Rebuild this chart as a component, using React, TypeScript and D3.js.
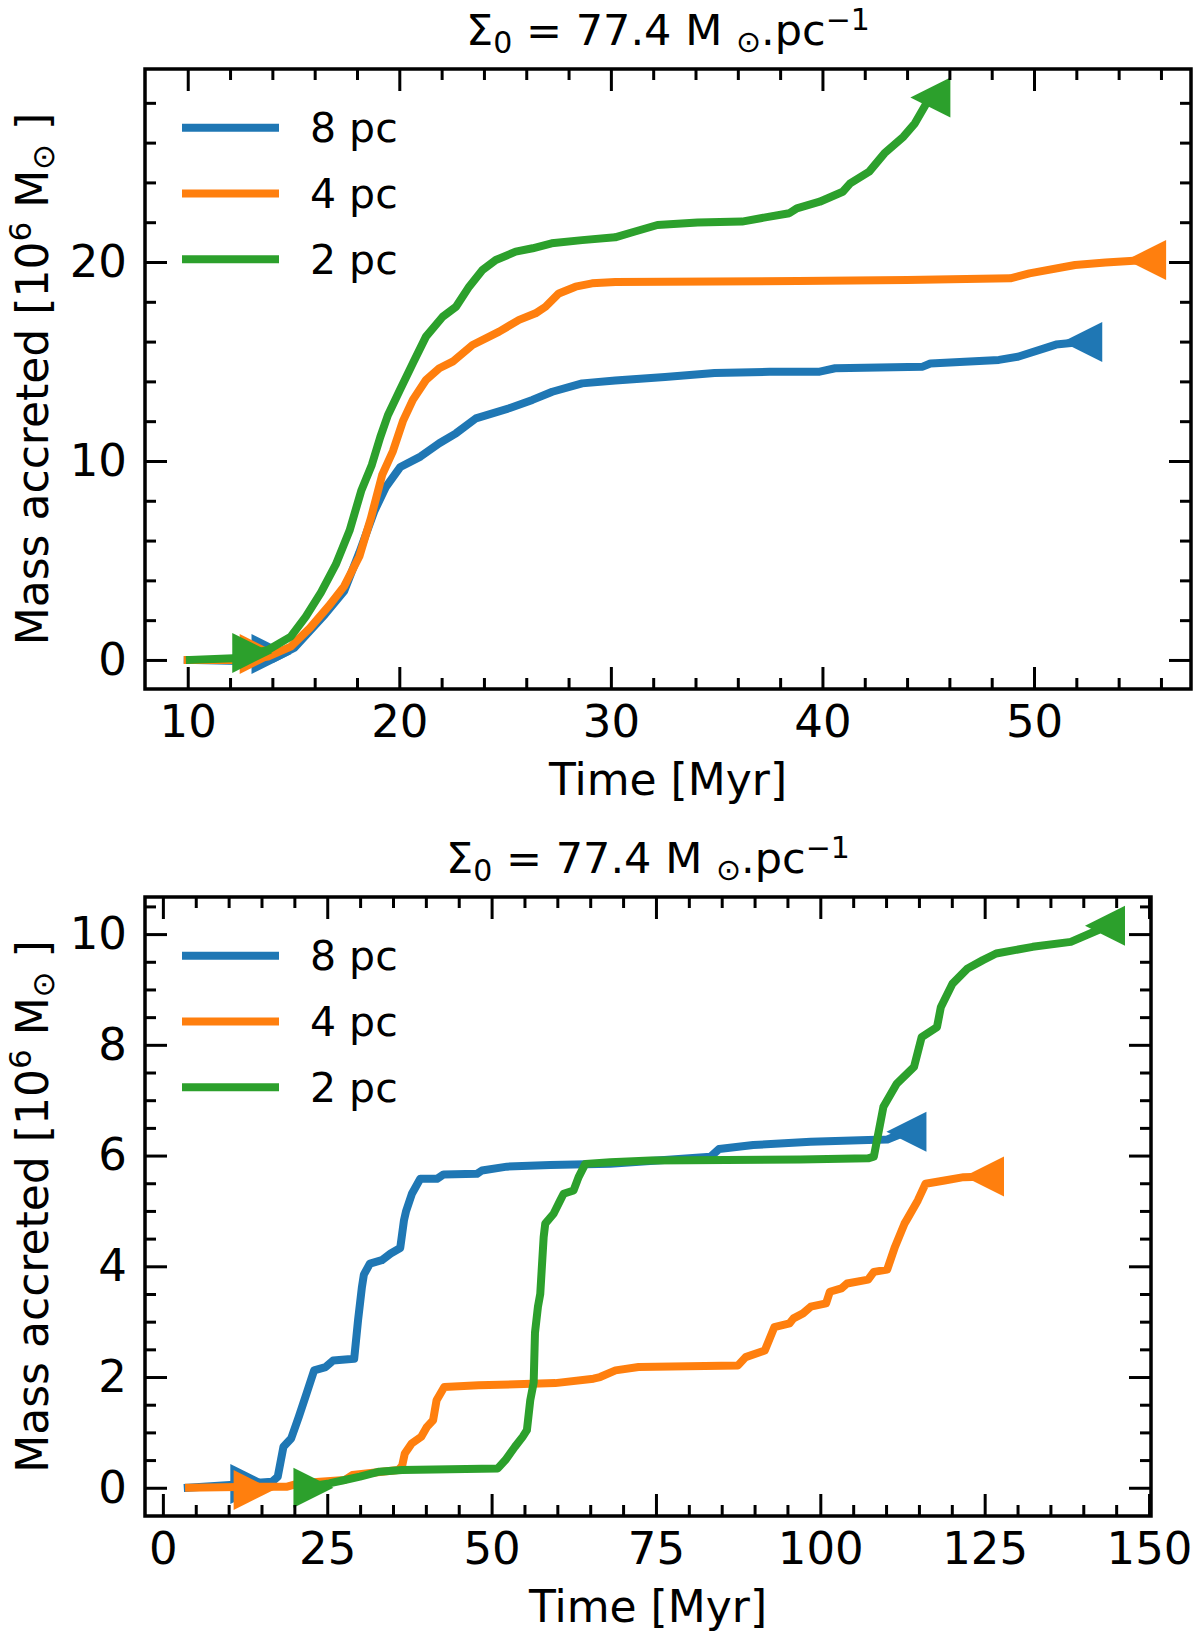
import React, { useEffect, useRef } from 'react';
import * as d3 from 'd3';

type Pt = [number, number]; // [time in Myr, mass in 1e6 Msun]

const seriesLabels = ['8 pc', '4 pc', '2 pc'];
const seriesColors = ['#1f77b4', '#ff7f0e', '#2ca02c'];

// --- top panel -------------------------------------------------------------
const top8pc: Pt[] = [
  [10, 0], [12.5, -0.05], [14.0, 0.05], [15.05, 0.62], [16.49, 2.3], [17.39, 3.45],
  [18.11, 5.4], [18.83, 7.5], [19.37, 8.7], [20.05, 9.7], [21.0, 10.22], [21.89, 10.89],
  [22.68, 11.39], [23.62, 12.14], [25.19, 12.65], [26.29, 13.07], [27.23, 13.48],
  [28.64, 13.9], [30.21, 14.05], [32.56, 14.22], [34.9, 14.42], [37.5, 14.48],
  [39.87, 14.49], [40.6, 14.66], [44.74, 14.74], [45.1, 14.9], [48.34, 15.08],
  [49.24, 15.24], [51.04, 15.85], [52.28, 15.98],
];
const top4pc: Pt[] = [
  [10, 0], [12.5, 0], [13.79, 0.17], [14.87, 0.67], [15.77, 1.6], [16.66, 2.7],
  [17.39, 3.7], [18.11, 5.2], [18.65, 7.1], [19.19, 9.3], [19.7, 10.5], [20.17, 12.0],
  [20.64, 13.07], [21.26, 14.07], [21.89, 14.66], [22.52, 14.99], [23.46, 15.83],
  [24.72, 16.5], [25.66, 17.09], [26.44, 17.42], [26.91, 17.75], [27.54, 18.42],
  [28.33, 18.76], [29.11, 18.93], [30.21, 19.0], [38.84, 19.04], [44, 19.1],
  [48.88, 19.18], [49.78, 19.43], [51.94, 19.85], [53.38, 19.97], [55.3, 20.1],
];
const top2pc: Pt[] = [
  [10.1, 0], [12.16, 0.08], [13.79, 0.5], [14.87, 1.17], [15.58, 2.18], [16.3, 3.4],
  [17.0, 4.8], [17.65, 6.5], [18.2, 8.5], [18.7, 9.8], [19.1, 11.2], [19.46, 12.3],
  [20.0, 13.5], [20.64, 14.91], [21.26, 16.25], [22.05, 17.25], [22.68, 17.75],
  [23.3, 18.76], [23.93, 19.6], [24.56, 20.1], [25.5, 20.52], [26.3, 20.69],
  [27.2, 20.94], [28.64, 21.1], [30.2, 21.24], [31.1, 21.52], [32.2, 21.86],
  [34.1, 21.98], [36.2, 22.03], [37.3, 22.24], [38.43, 22.45], [38.79, 22.7],
  [39.87, 23.03], [40.96, 23.53], [41.31, 23.95], [42.21, 24.54], [42.93, 25.46],
  [43.83, 26.3], [44.37, 26.97], [44.91, 27.97], [45.1, 28.27],
];
const topStartMarks: Pt[] = [[13.96, 0.3], [13.4, 0.3], [13.05, 0.35]];
const topXTicks = [10, 20, 30, 40, 50];
const topYTicks = [0, 10, 20];

// --- bottom panel ----------------------------------------------------------
const bottom8pc: Pt[] = [
  [3.79, 0], [10.2, 0.05], [16.6, 0.11], [17.47, 0.2], [18.34, 0.74], [19.51, 0.89],
  [20.67, 1.28], [21.84, 1.7], [23.0, 2.12], [24.75, 2.18], [25.9, 2.3], [29.1, 2.33],
  [29.69, 3.03], [30.28, 3.63], [30.57, 3.85], [31.5, 4.05], [33.3, 4.11], [34.65, 4.23],
  [36.1, 4.33], [36.67, 4.83], [37.0, 5.0], [37.88, 5.31], [39.15, 5.58], [41.69, 5.58],
  [42.7, 5.66], [47.77, 5.67], [48.53, 5.73], [52.33, 5.8], [58.92, 5.83], [68.05, 5.85],
  [74.13, 5.9], [83.3, 5.98], [84.6, 6.12], [89.8, 6.19], [98.54, 6.25], [107.27, 6.28],
  [110.2, 6.29], [113.1, 6.43],
];
const bottom4pc: Pt[] = [
  [3.98, 0], [16.0, 0.02], [18.92, 0.02], [20.67, 0.08], [27.65, 0.14], [28.81, 0.23],
  [35.8, 0.32], [36.4, 0.4], [36.8, 0.62], [37.84, 0.8], [39.3, 0.92], [40.17, 1.1],
  [41.1, 1.22], [41.63, 1.58], [42.8, 1.82], [48.03, 1.85], [59.68, 1.89], [65.5, 1.97],
  [66.5, 2.0], [68.85, 2.12], [72.35, 2.18], [87.48, 2.21], [88.64, 2.36], [91.56, 2.48],
  [93.0, 2.9], [95.33, 2.97], [95.92, 3.06], [97.37, 3.15], [98.54, 3.27], [100.87, 3.33],
  [101.45, 3.54], [103.2, 3.6], [104.07, 3.69], [107.27, 3.76], [108.14, 3.9],
  [110.17, 3.94], [111.35, 4.35], [112.8, 4.77], [113.1, 4.83], [114.83, 5.19],
  [116.0, 5.49], [118.9, 5.55], [121.8, 5.61], [124.9, 5.62],
];
const bottom2pc: Pt[] = [
  [21.0, 0], [25.3, 0.08], [27.65, 0.14], [29.98, 0.2], [32.9, 0.29], [36.38, 0.32],
  [50.94, 0.35], [52.1, 0.5], [53.55, 0.74], [54.72, 0.92], [55.37, 1.04], [55.88, 1.58],
  [56.4, 1.9], [56.6, 2.8], [57.05, 3.27], [57.4, 3.5], [57.92, 4.53], [58.16, 4.77],
  [59.43, 4.95], [60.44, 5.19], [60.95, 5.31], [62.47, 5.37], [63.23, 5.61], [64.25, 5.85],
  [68.05, 5.88], [74.13, 5.91], [96.95, 5.93], [107.27, 5.95], [108.14, 5.98],
  [109.6, 6.88], [111.64, 7.3], [114.25, 7.6], [115.42, 8.14], [117.75, 8.32],
  [118.33, 8.68], [120.08, 9.1], [122.41, 9.38], [124.73, 9.53], [126.75, 9.65],
  [132.3, 9.77], [138.1, 9.86], [142.19, 10.07], [143.3, 10.15],
];
const bottomStartMarks: Pt[] = [[13.3, 0.07], [13.8, -0.04], [22.9, 0]];
const bottomXTicks = [0, 25, 50, 75, 100, 125, 150];
const bottomYTicks = [0, 2, 4, 6, 8, 10];

const FONT = '"DejaVu Sans", sans-serif';
const LINE_W = 8;
const MARKER = 40;

interface PanelSpec {
  left: number; right: number; top: number; bottom: number;
  xDomain: [number, number]; yDomain: [number, number];
  series: Pt[][]; startMarks: Pt[];
  xTicks: number[]; yTicks: number[];
  xMinorStep: number; yMinorStep: number;
}

const panels: PanelSpec[] = [
  {
    left: 145, right: 1191, top: 69, bottom: 689,
    xDomain: [7.98, 57.42], yDomain: [-1.46, 29.7],
    series: [top8pc, top4pc, top2pc], startMarks: topStartMarks,
    xTicks: topXTicks, yTicks: topYTicks, xMinorStep: 2, yMinorStep: 2,
  },
  {
    left: 145, right: 1151, top: 897, bottom: 1516,
    xDomain: [-2.72, 150.3], yDomain: [-0.51, 10.67],
    series: [bottom8pc, bottom4pc, bottom2pc], startMarks: bottomStartMarks,
    xTicks: bottomXTicks, yTicks: bottomYTicks, xMinorStep: 5, yMinorStep: 0.5,
  },
];

// matplotlib-like triangle marker, base == height == size
const triangle = (cx: number, cy: number, size: number, dir: 'left' | 'right') => {
  const h = size / 2;
  const p = d3.path();
  if (dir === 'right') {
    p.moveTo(cx - h, cy - h); p.lineTo(cx + h, cy); p.lineTo(cx - h, cy + h);
  } else {
    p.moveTo(cx + h, cy - h); p.lineTo(cx - h, cy); p.lineTo(cx + h, cy + h);
  }
  p.closePath();
  return p.toString();
};

const minorTicks = (domain: [number, number], step: number, majors: number[]) => {
  const start = Math.ceil(domain[0] / step) * step;
  return d3.range(start, domain[1] + 1e-9, step)
    .map(v => Math.round(v * 1000) / 1000)
    .filter(v => !majors.some(m => Math.abs(m - v) < 1e-6))
    .filter(v => v > domain[0] + 0.05 * step && v < domain[1] - 0.05 * step);
};

function drawPanel(svg: d3.Selection<SVGSVGElement, unknown, null, undefined>, p: PanelSpec) {
  const x = d3.scaleLinear().domain(p.xDomain).range([p.left, p.right]);
  const y = d3.scaleLinear().domain(p.yDomain).range([p.bottom, p.top]);
  const g = svg.append('g');

  // --- curves + markers
  const line = d3.line<Pt>().x(d => x(d[0])).y(d => y(d[1]));
  p.series.forEach((s, i) => {
    g.append('path')
      .attr('d', line(s))
      .attr('fill', 'none')
      .attr('stroke', seriesColors[i])
      .attr('stroke-width', LINE_W)
      .attr('stroke-linejoin', 'round')
      .attr('stroke-linecap', 'square');
    const st = p.startMarks[i];
    g.append('path')
      .attr('d', triangle(x(st[0]), y(st[1]), MARKER, 'right'))
      .attr('fill', seriesColors[i]);
    const end = s[s.length - 1];
    g.append('path')
      .attr('d', triangle(x(end[0]), y(end[1]), MARKER, 'left'))
      .attr('fill', seriesColors[i]);
  });

  // --- axes (ticks inward on all four sides)
  const xMinor = minorTicks(p.xDomain, p.xMinorStep, p.xTicks);
  const yMinor = minorTicks(p.yDomain, p.yMinorStep, p.yTicks);
  const blank = () => '';

  const styleAxis = (a: d3.Selection<SVGGElement, unknown, null, undefined>) => {
    a.select('.domain').remove();
    a.selectAll('.tick line').attr('stroke', '#000').attr('stroke-width', 3);
    a.selectAll('.tick text').attr('fill', '#000');
    a.attr('font-family', FONT).attr('font-size', 45);
  };

  const addAxis = (axis: d3.Axis<d3.NumberValue>, tx: number, ty: number) => {
    const a = g.append('g').attr('transform', `translate(${tx},${ty})`);
    a.call(axis);
    styleAxis(a);
  };

  addAxis(d3.axisBottom(x).tickValues(p.xTicks).tickSize(-22).tickPadding(16).tickFormat(d3.format('d')), 0, p.bottom);
  addAxis(d3.axisBottom(x).tickValues(xMinor).tickSize(-11).tickFormat(blank), 0, p.bottom);
  addAxis(d3.axisTop(x).tickValues(p.xTicks).tickSize(-22).tickFormat(blank), 0, p.top);
  addAxis(d3.axisTop(x).tickValues(xMinor).tickSize(-11).tickFormat(blank), 0, p.top);
  addAxis(d3.axisLeft(y).tickValues(p.yTicks).tickSize(-22).tickPadding(18).tickFormat(d3.format('d')), p.left, 0);
  addAxis(d3.axisLeft(y).tickValues(yMinor).tickSize(-11).tickFormat(blank), p.left, 0);
  addAxis(d3.axisRight(y).tickValues(p.yTicks).tickSize(-22).tickFormat(blank), p.right, 0);
  addAxis(d3.axisRight(y).tickValues(yMinor).tickSize(-11).tickFormat(blank), p.right, 0);

  g.append('rect')
    .attr('x', p.left).attr('y', p.top)
    .attr('width', p.right - p.left).attr('height', p.bottom - p.top)
    .attr('fill', 'none').attr('stroke', '#000').attr('stroke-width', 3.5);

  // --- legend (no frame)
  const lg = g.append('g').attr('font-family', FONT).attr('font-size', 41);
  seriesLabels.forEach((label, i) => {
    const ly = p.top + 58.7 + 65.8 * i;
    lg.append('line')
      .attr('x1', p.left + 37).attr('x2', p.left + 134)
      .attr('y1', ly).attr('y2', ly)
      .attr('stroke', seriesColors[i]).attr('stroke-width', LINE_W);
    lg.append('text')
      .attr('x', p.left + 165).attr('y', ly).attr('dy', '0.36em')
      .text(label);
  });

  // --- title
  const cx = (p.left + p.right) / 2;
  const t = g.append('text')
    .attr('x', cx).attr('y', p.top - 24)
    .attr('text-anchor', 'middle')
    .attr('font-family', FONT).attr('font-size', 43)
    .style('white-space', 'pre');
  t.append('tspan').text('Σ');
  t.append('tspan').attr('font-size', 30).attr('dy', 8).text('0');
  t.append('tspan').attr('dy', -8).text(' = 77.4 M ');
  t.append('tspan').attr('font-size', 30).attr('dy', 7).text('⊙');
  t.append('tspan').attr('dy', -7).text('.pc');
  t.append('tspan').attr('font-size', 30).attr('dy', -15).text('−1');

  // --- axis labels
  g.append('text')
    .attr('x', cx).attr('y', p.bottom + 106)
    .attr('text-anchor', 'middle')
    .attr('font-family', FONT).attr('font-size', 44)
    .text('Time [Myr]');

  const yl = g.append('text')
    .attr('transform', `translate(48,${(p.top + p.bottom) / 2}) rotate(-90)`)
    .attr('text-anchor', 'middle')
    .attr('font-family', FONT).attr('font-size', 44)
    .style('white-space', 'pre');
  yl.append('tspan').text('Mass accreted [10');
  yl.append('tspan').attr('font-size', 31).attr('dy', -17).text('6');
  yl.append('tspan').attr('dy', 17).text(' M');
  yl.append('tspan').attr('font-size', 31).attr('dy', 6).text('⊙');
  yl.append('tspan').attr('dy', -6).text(' ]');
}

export default function App() {
  const svgRef = useRef<SVGSVGElement>(null);

  useEffect(() => {
    if (!svgRef.current) return;
    const svg = d3.select(svgRef.current);
    svg.selectAll('*').remove();
    panels.forEach(p => drawPanel(svg, p));
  }, []);

  return (
    <div style={{ position: 'absolute', left: 0, top: 0, background: '#fff' }}>
      <svg ref={svgRef} width={1200} height={1639} style={{ display: 'block', background: '#fff' }} />
    </div>
  );
}
